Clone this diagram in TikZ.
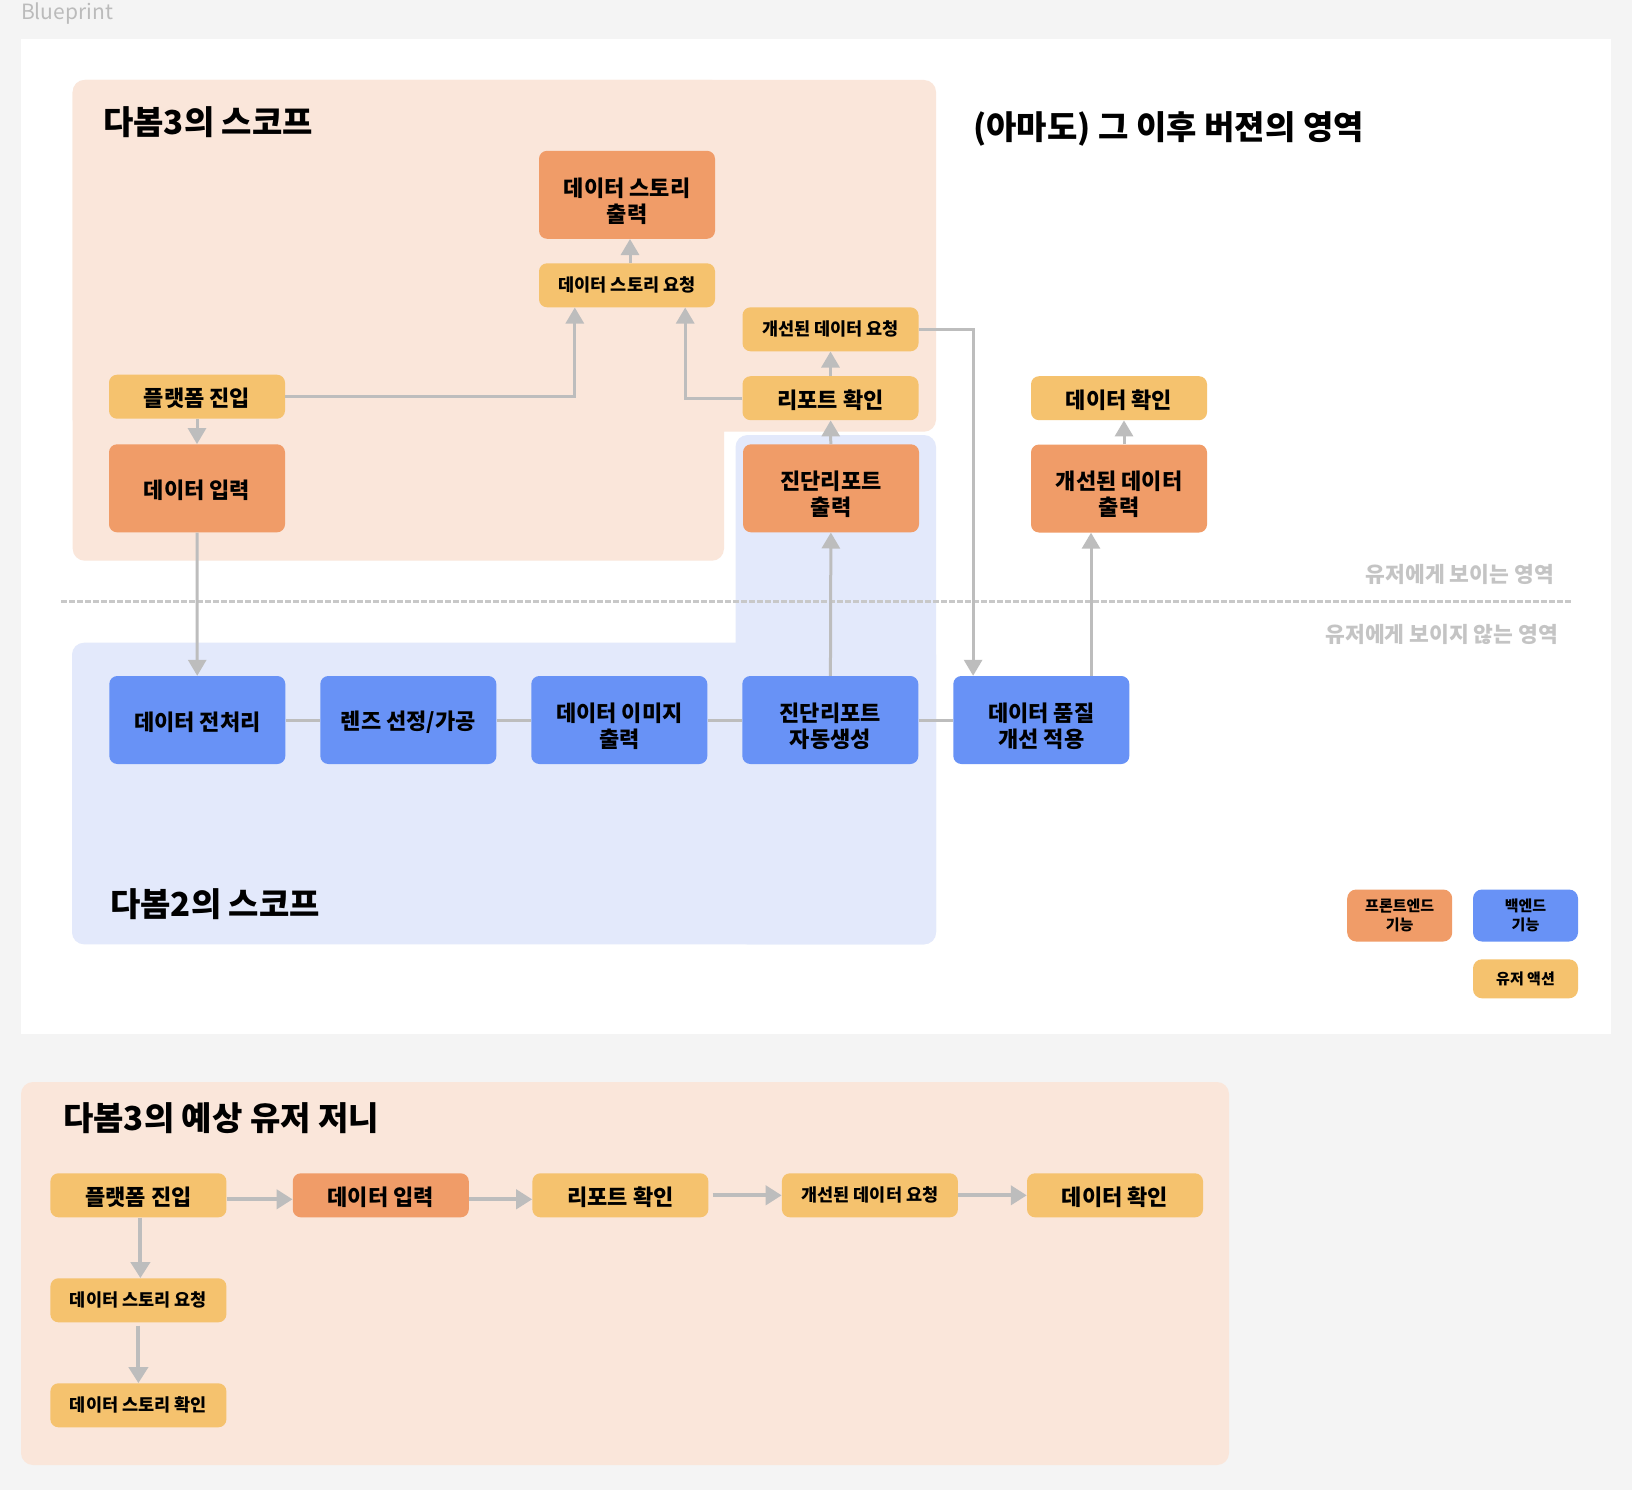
\documentclass[tikz,border=0pt]{standalone}
\usepackage{fontspec}
\setmainfont{Noto Sans CJK KR}
\usetikzlibrary{arrows.meta}
\definecolor{bggray}{HTML}{F4F4F4}
\definecolor{regO}{HTML}{FAE6DA}
\definecolor{regB}{HTML}{E3E9FB}
\definecolor{boxO}{HTML}{F09C68}
\definecolor{boxY}{HTML}{F5C26E}
\definecolor{boxB}{HTML}{6892F6}
\definecolor{cgray}{HTML}{BDBDBD}
\definecolor{lblgray}{HTML}{C4C4C4}
\definecolor{bpgray}{HTML}{BBBBBB}
\definecolor{dashgray}{HTML}{C8C8C8}
\begin{document}
\begin{tikzpicture}[x=1pt,y=-1pt,
  box/.style={rounded corners=8pt, minimum width=176pt, align=center, text=black, inner sep=0pt,
    font=\bfseries\fontsize{22}{26}\selectfont},
  btxt/.style={align=center, text=black, inner sep=0pt, font=\bfseries\fontsize{22}{26}\selectfont},
  tone/.style={label={[btxt, yshift=-2pt]center:#1}},
  ttwo/.style={label={[btxt, yshift=-6pt]center:#1}},
  bigbox/.style={box, minimum height=88pt},
  smallbox/.style={box, minimum height=44pt},
  fo/.style={fill=boxO}, fy/.style={fill=boxY}, fb/.style={fill=boxB},
  smtext/.style={font=\bfseries\fontsize{17.5}{21}\selectfont},
  link/.style={draw=cgray, line width=3pt},
  arr/.style={link, -{Triangle[width=18pt,length=16pt]}},
  jarr/.style={draw=cgray, line width=4pt, -{Triangle[width=19pt,length=16pt]}},
  ttl/.style={font=\bfseries\fontsize{33}{38}\selectfont, anchor=west, inner sep=0pt, text=black},
  zone/.style={text=lblgray, font=\bfseries\fontsize{21.5}{25}\selectfont, anchor=east, inner sep=0pt},
  legend/.style={rounded corners=9pt, minimum width=105pt, align=center, text=black, inner sep=0pt,
    font=\bfseries\fontsize{15}{18.5}\selectfont},
]
\useasboundingbox (0,0) rectangle (1632,1490);
\fill[bggray] (0,0) rectangle (1632,1490);
\fill[white] (21,39) rectangle (1611,1033.5);
\node[anchor=west, inner sep=0pt, text=bpgray, font=\fontsize{21}{24}\selectfont] (bp) at (21,13.5) {Blueprint};

% regions
\fill[regO, rounded corners=12pt] (72.7,80) rectangle (936,431.7);
\fill[regO, rounded corners=12pt] (72.7,80) rectangle (724,560.7);
\fill[regB, rounded corners=12pt] (735.5,435) rectangle (936,944.3);
\fill[regB, rounded corners=12pt] (72,642.7) rectangle (936,944.3);
\fill[regO, rounded corners=12pt] (21,1082) rectangle (1229,1465);

% divider
\coordinate (dl) at (61,601.6);
\coordinate (dr) at (1571,601.6);
\draw[dashgray, line width=3pt, dash pattern=on 5.5pt off 2.5pt] (dl) -- (dr);

% titles
\node[ttl] (t3) at (103,122) {다봄3의 스코프};
\node[ttl] (tf) at (973,129) {(아마도) 그 이후 버젼의 영역};
\node[ttl] (t2) at (110,904) {다봄2의 스코프};
\node[ttl] (tj) at (63,1118.5) {다봄3의 예상 유저 저니};
\node[zone] (zv) at (1554,574.5) {유저에게 보이는 영역};
\node[zone] (zi) at (1558,634.5) {유저에게 보이지 않는 영역};

% top nodes
\node[bigbox, fo, ttwo={데이터 스토리\\출력}] (dso) at (627,194.8) {};
\node[smallbox, fy, smtext] (dsr) at (627,285.3) {데이터 스토리 요청};
\node[smallbox, fy, smtext] (idr) at (830.5,329.3) {개선된 데이터 요청};
\node[smallbox, fy, tone={리포트 확인}] (rc) at (830.5,398.2) {};
\node[smallbox, fy, tone={플랫폼 진입}] (pe) at (197,396.7) {};
\node[bigbox, fo, tone={데이터 입력}] (di) at (197,488.3) {};
\node[bigbox, fo, ttwo={진단리포트\\출력}] (drout) at (831,488.3) {};
\node[smallbox, fy, tone={데이터 확인}] (dc) at (1119,398.2) {};
\node[bigbox, fo, ttwo={개선된 데이터\\출력}] (ido) at (1119,488.5) {};

% backend row
\node[bigbox, fb, tone={데이터 전처리}] (pre) at (197.3,720) {};
\node[bigbox, fb, tone={렌즈 선정/가공}] (lens) at (408.3,720) {};
\node[bigbox, fb, ttwo={데이터 이미지\\출력}] (img) at (619.3,720) {};
\node[bigbox, fb, ttwo={진단리포트\\자동생성}] (auto) at (830.3,720) {};
\node[bigbox, fb, ttwo={데이터 품질\\개선 적용}] (dq) at (1041.3,720) {};

% legend
\node[legend, fo, minimum height=52pt] (lfe) at (1399.7,915.5) {프론트엔드\\기능};
\node[legend, fb, minimum height=52pt] (lbe) at (1525.5,915.5) {백엔드\\기능};
\node[legend, fy, minimum height=39pt] (lua) at (1525.5,978.8) {유저 액션};

% connectors top
\draw[arr] (pe) -- (di);
\draw[arr] (pe.east) -| ([xshift=36pt]dsr.south west);
\draw[arr] (rc.west) -| ([xshift=-30pt]dsr.south east);
\draw[arr] ([xshift=3pt]dsr.north) -- ([xshift=3pt]dso.south);
\draw[arr] (rc) -- (idr);
\draw[arr] (drout) -- (rc);
\draw[arr] (auto) -- (drout);
\draw[arr] (idr.east) -| ([xshift=20pt]dq.north west);
\draw[arr] ([xshift=-28pt]ido.south |- dq.north) -- ([xshift=-28pt]ido.south);
\draw[arr] ([xshift=5pt]ido.north) -- ([xshift=5pt]dc.south);
\draw[arr] (di) -- (pre);
\draw[link] (pre) -- (lens);
\draw[link] (lens) -- (img);
\draw[link] (img) -- (auto);
\draw[link] (auto) -- (dq);

% journey
\node[smallbox, fy, tone={플랫폼 진입}] (jpe) at (138.4,1195.3) {};
\node[smallbox, fo, tone={데이터 입력}] (jdi) at (380.8,1195.3) {};
\node[smallbox, fy, tone={리포트 확인}] (jrc) at (620.4,1195.3) {};
\node[smallbox, fy, smtext] (jidr) at (869.9,1195.3) {개선된 데이터 요청};
\node[smallbox, fy, tone={데이터 확인}] (jdc) at (1115,1195.3) {};
\node[smallbox, fy, smtext] (jdsr) at (138.4,1300.3) {데이터 스토리 요청};
\node[smallbox, fy, smtext] (jdsc) at (138.4,1405.3) {데이터 스토리 확인};

\draw[jarr] ([yshift=-4pt]jpe.east) -- ([yshift=-4pt]jdi.west);
\draw[jarr] ([yshift=-4pt]jdi.east) -- ([yshift=-4pt]jrc.west);
\draw[jarr] ([xshift=4pt]jrc.east) -- (jidr.west);
\draw[jarr] (jidr.east) -- (jdc.west);
\draw[jarr] ([xshift=2pt]jpe.south) -- ([xshift=2pt]jdsr.north);
\draw[jarr] ([yshift=-3pt]jdsr.south) -- (jdsr.south |- jdsc.north);
\end{tikzpicture}
\end{document}
